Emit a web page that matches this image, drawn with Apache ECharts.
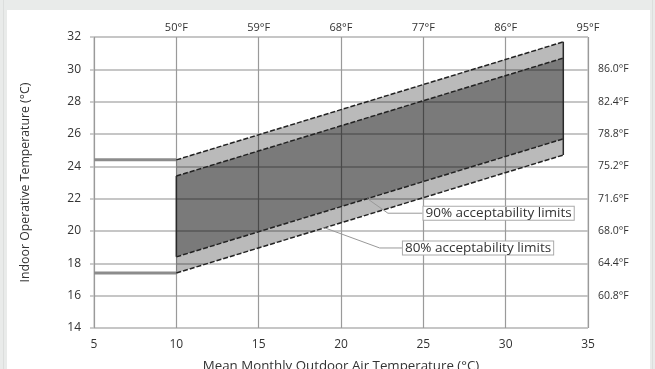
<!DOCTYPE html>
<html>
<head>
<meta charset="utf-8">
<script src="https://cdn.jsdelivr.net/npm/echarts@6/dist/echarts.min.js"></script>
<style>
  html, body { margin: 0; padding: 0; }
  #chart { width: 655px; height: 369px; }
</style>
</head>
<body>
<div id="chart"></div>
<script>
// axis ticks and labels
var xTicks = [5, 10, 15, 20, 25, 30, 35];
var topLabels = ['', '50°F', '59°F', '68°F', '77°F', '86°F', '95°F'];
var yTicks = [14, 16, 18, 20, 22, 24, 26, 28, 30, 32];
var rightLabels = ['', '60.8°F', '64.4°F', '68.0°F', '71.6°F', '75.2°F', '78.8°F', '82.4°F', '86.0°F', ''];

// comfort zone (x from 10 to 33.5 °C)
var bandX = [10, 33.5];
var outerLow = [17.4, 24.7];
var outerHigh = [24.4, 31.7];
var innerLow = [18.4, 25.7];
var innerHigh = [23.4, 30.7];

// flat limits below 10 °C
var flatX = [5, 10];
var flatLow = [17.4, 17.4];
var flatHigh = [24.4, 24.4];

// annotation leaders
var leader90 = [[21.6, 22.0], [22.85, 21.1], [24.95, 21.1]];
var leader80 = [[19.0, 20.2], [22.35, 18.95], [23.7, 18.95]];

var FONT = '"Open Sans", sans-serif';

function pts(xs, ys) {
    return xs.map(function (x, i) { return [x, ys[i]]; });
}

function polygonSeries(low, high, fill) {
    return {
        type: 'custom',
        silent: true,
        data: [0],
        renderItem: function (params, api) {
            var p = [];
            bandX.forEach(function (x, i) { p.push(api.coord([x, low[i]])); });
            for (var i = bandX.length - 1; i >= 0; i--) p.push(api.coord([bandX[i], high[i]]));
            return { type: 'polygon', shape: { points: p }, style: { fill: fill } };
        }
    };
}

function lineSeries(data, style, extra) {
    var s = {
        type: 'line',
        data: data,
        symbol: 'none',
        silent: true,
        lineStyle: style
    };
    for (var k in extra) s[k] = extra[k];
    return s;
}

var edgeStyle = { color: '#222', width: 1.5, type: [5, 2] };
var boxLabel = function (text) {
    return {
        show: true,
        formatter: text,
        distance: 1,
        fontFamily: FONT,
        fontSize: 13.5,
        color: '#333',
        backgroundColor: '#fff',
        borderColor: '#aaa',
        borderWidth: 1,
        padding: [0, 2, -1, 2]
    };
};

var chart = echarts.init(document.getElementById('chart'));
chart.setOption({
    animation: false,
    backgroundColor: '#e9ebea',
    graphic: [
        { type: 'rect', shape: { x: 7, y: 10, width: 643, height: 370 }, style: { fill: '#fff' }, z: -10 },
        { type: 'line', shape: { x1: 3.5, y1: 0, x2: 3.5, y2: 369 }, style: { stroke: '#dcdedd', lineWidth: 1 }, z: -10 },
        { type: 'line', shape: { x1: 652.5, y1: 0, x2: 652.5, y2: 369 }, style: { stroke: '#dcdedd', lineWidth: 1 }, z: -10 }
    ],
    grid: {
        left: 94, right: 67, top: 37, bottom: 41,
        outerBoundsMode: 'none',
        show: true, borderColor: '#bdbdbd', borderWidth: 1
    },
    xAxis: [{
        type: 'value', min: 5, max: 35, interval: 5, position: 'bottom',
        name: 'Mean Monthly Outdoor Air Temperature (°C)',
        nameLocation: 'middle', nameGap: 32,
        nameTextStyle: { fontFamily: FONT, fontSize: 13.3, color: '#333' },
        axisLine: { show: false }, axisTick: { show: false },
        axisLabel: { margin: 11, fontFamily: FONT, fontSize: 12, color: '#333' },
        splitLine: { show: true, lineStyle: { color: '#9a9a9a', width: 1.2 } }
    }, {
        type: 'value', min: 5, max: 35, interval: 5, position: 'top',
        axisLine: { show: false }, axisTick: { show: false },
        axisLabel: {
            margin: 4, fontFamily: FONT, fontSize: 11, color: '#333',
            formatter: function (v) { return topLabels[xTicks.indexOf(v)] || ''; }
        },
        splitLine: { show: false }
    }],
    yAxis: [{
        type: 'value', min: 14, max: 32, interval: 2, position: 'left',
        name: 'Indoor Operative Temperature (°C)',
        nameLocation: 'middle', nameGap: 63, nameRotate: 90,
        nameTextStyle: { fontFamily: FONT, fontSize: 12.3, color: '#333' },
        axisLine: { show: false },
        axisTick: { show: true, length: 4, lineStyle: { color: '#bdbdbd', width: 1.5 } },
        axisLabel: { margin: 13, fontFamily: FONT, fontSize: 12, color: '#333' },
        splitLine: { show: true, lineStyle: { color: '#c6c6c6', width: 2 } }
    }, {
        type: 'value', min: 14, max: 32, interval: 2, position: 'right',
        axisLine: { show: false }, axisTick: { show: false },
        axisLabel: {
            margin: 10, fontFamily: FONT, fontSize: 10.5, color: '#333',
            formatter: function (v) { return rightLabels[yTicks.indexOf(v)] || ''; }
        },
        splitLine: { show: false }
    }],
    series: [
        polygonSeries(outerLow, outerHigh, 'rgba(0,0,0,0.27)'),
        polygonSeries(innerLow, innerHigh, 'rgba(0,0,0,0.34)'),
        lineSeries(pts(flatX, flatHigh), { color: '#8c8c8c', width: 3 }),
        lineSeries(pts(flatX, flatLow), { color: '#8c8c8c', width: 3 }),
        lineSeries(pts(bandX, outerHigh), edgeStyle),
        lineSeries(pts(bandX, outerLow), edgeStyle),
        lineSeries(pts(bandX, innerHigh), edgeStyle),
        lineSeries(pts(bandX, innerLow), edgeStyle),
        lineSeries([[bandX[0], innerLow[0]], [bandX[0], innerHigh[0]]], { color: '#2a2a2a', width: 1.5 }),
        lineSeries([[bandX[1], outerLow[1]], [bandX[1], outerHigh[1]]], { color: '#2a2a2a', width: 1.5 }),
        lineSeries(leader90, { color: '#999', width: 1 }, { endLabel: boxLabel('90% acceptability limits') }),
        lineSeries(leader80, { color: '#999', width: 1 }, { endLabel: boxLabel('80% acceptability limits') })
    ]
});
</script>
</body>
</html>
